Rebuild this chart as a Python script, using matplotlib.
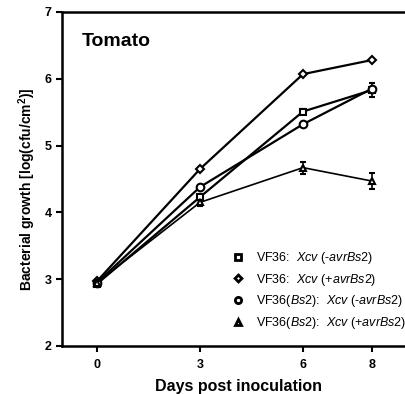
import matplotlib
matplotlib.use("Agg")
import matplotlib.pyplot as plt
from matplotlib.lines import Line2D

plt.rcParams['font.family'] = ['Liberation Sans', 'DejaVu Sans']
plt.rcParams['mathtext.fontset'] = 'custom'
plt.rcParams['mathtext.rm'] = 'Liberation Sans'
plt.rcParams['mathtext.it'] = 'Liberation Sans:italic'
plt.rcParams['mathtext.bf'] = 'Liberation Sans:bold'

days = [0, 3, 6, 8]
sq = [2.93, 4.23, 5.51, 5.83]
sq_err = [0.03, 0.05, 0.04, 0.10]
di = [2.97, 4.65, 6.07, 6.28]
ci = [2.95, 4.38, 5.32, 5.85]
tr = [2.95, 4.15, 4.67, 4.47]
tr_err = [0.03, 0.05, 0.09, 0.12]

labels = [r"VF36:  $\mathit{Xcv}$ (-$\mathit{avrBs}$2)",
          r"VF36:  $\mathit{Xcv}$ (+$\mathit{avrBs}$2)",
          r"VF36($\mathit{Bs}$2):  $\mathit{Xcv}$ (-$\mathit{avrBs}$2)",
          r"VF36($\mathit{Bs}$2):  $\mathit{Xcv}$ (+$\mathit{avrBs}$2)"]
xticks = [0, 3, 6, 8]
yticks = [2, 3, 4, 5, 6, 7]

fig = plt.figure(figsize=(4.06, 3.94), dpi=100)
ax = fig.add_axes([62/406, 48/394, 344/406, 334/394])

kw = dict(color='black', mfc='white', mec='black', mew=1.5, lw=1.6, capsize=2.5, elinewidth=1.2)
ax.errorbar(days, sq, yerr=sq_err, marker='s', ms=5, **kw)
ax.errorbar(days, di, marker='D', ms=4, **kw)
ax.errorbar(days, ci, marker='o', ms=5.5, **kw)
ax.errorbar(days, tr, yerr=tr_err, marker='^', ms=5, **dict(kw, lw=1.2))

ax.set_xlim(-1.02, 9.0)
ax.set_ylim(2, 7)
ax.set_xticks(xticks)
ax.set_yticks(yticks)
for s in ['left', 'bottom', 'top']:
    ax.spines[s].set_linewidth(1.8)
ax.spines['right'].set_visible(False)
ax.tick_params(direction='out', width=1.5, length=4, labelsize=9)
ax.tick_params(axis='x', pad=5)
for lab in ax.get_xticklabels() + ax.get_yticklabels():
    lab.set_fontweight('bold')

ax.set_xlabel('Days post inoculation', fontsize=11.5, fontweight='bold')
ax.xaxis.set_label_coords((239 - 62) / 344, (346 - 387) / 334)
ax.xaxis.label.set_va('center')
ax.set_ylabel(r'Bacterial growth [log(cfu/cm$^\mathbf{2}$)]', fontsize=10, fontweight='bold')
ax.yaxis.set_label_coords((27 - 62) / 344, (346 - 189) / 334)
ax.yaxis.label.set_va('center')
ax.text((82 - 62) / 344, (346 - 42) / 334, 'Tomato', transform=ax.transAxes,
        fontsize=14, fontweight='bold', va='center')

handles = [Line2D([], [], ls='none', marker=m, ms=s, mfc='white', mec='black', mew=2)
           for m, s in [('s', 4), ('D', 3.5), ('o', 4.5), ('^', 4.5)]]
leg = ax.legend(handles, labels, loc='upper left',
                bbox_to_anchor=((232 - 62) / 344, (346 - 250) / 334),
                frameon=False, fontsize=9, handlelength=1.0, handletextpad=0.9,
                labelspacing=0.45, borderaxespad=0.0, borderpad=0.0)

fig.savefig('out.png', dpi=100)
